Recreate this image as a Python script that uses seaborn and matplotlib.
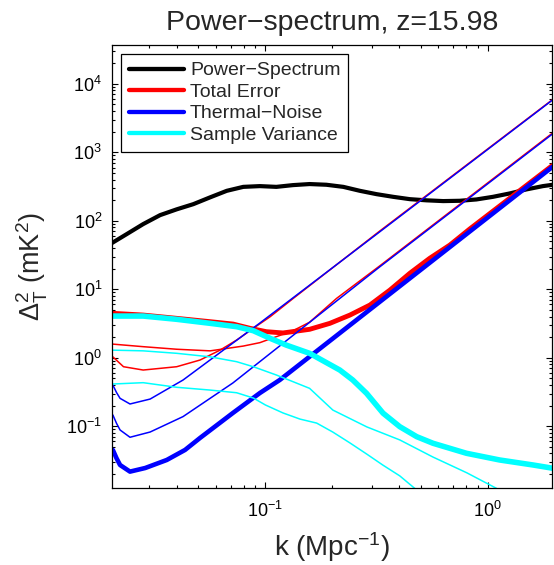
import matplotlib
matplotlib.use('Agg')
import matplotlib.pyplot as plt
from matplotlib.lines import Line2D
from matplotlib.ticker import LogLocator, NullFormatter
import seaborn as sns

# Power spectrum (black)
k_ps = [0.0204, 0.0238, 0.0282, 0.0336, 0.0399, 0.0474, 0.0564, 0.0670, 0.0795, 0.0944,
        0.112, 0.133, 0.158, 0.188, 0.224, 0.266, 0.316, 0.375, 0.446, 0.530,
        0.630, 0.748, 0.889, 1.056, 1.256, 1.49, 1.77, 1.96]
ps = [47.3, 64, 89.5, 121, 147, 175, 220, 274, 313, 321,
      313, 332, 344, 336, 313, 274, 245, 224, 207, 199,
      194, 196, 205, 224, 251, 287, 321, 336]

# Thermal noise (blue): thick, middle thin, upper thin
k_tn_a = [0.0206, 0.0214, 0.0222, 0.0246, 0.0288, 0.036, 0.0435, 0.0508, 0.0714, 0.0944,
          0.116, 1.95]
tn_a = [0.045, 0.034, 0.0271, 0.0217, 0.0245, 0.0321, 0.045, 0.0673, 0.156, 0.305,
        0.473, 610]
k_tn_b = [0.0206, 0.0214, 0.0222, 0.0246, 0.0303, 0.0426, 0.0714, 0.327, 1.95]
tn_b = [0.146, 0.11, 0.088, 0.0689, 0.0822, 0.138, 0.428, 21.3, 1845]
k_tn_c = [0.0206, 0.0214, 0.0222, 0.0246, 0.0303, 0.0426, 0.0944, 0.327, 1.95]
tn_c = [0.399, 0.31, 0.255, 0.211, 0.249, 0.472, 3.21, 69.2, 5780]

# Sample variance (cyan)
k_sv_a = [0.0206, 0.0282, 0.0399, 0.0564, 0.0742, 0.0882, 0.105, 0.124, 0.158, 0.216,
          0.247, 0.285, 0.338, 0.402, 0.479, 0.567, 0.802, 1.13, 1.60, 1.96]
sv_a = [4.06, 4.06, 3.64, 3.18, 2.84, 2.48, 1.92, 1.53, 1.16, 0.661,
        0.473, 0.302, 0.155, 0.0984, 0.0703, 0.0563, 0.0402, 0.0321, 0.0271, 0.0243]
k_sv_b = [0.0206, 0.0282, 0.0399, 0.0564, 0.0742, 0.0882, 0.112, 0.133, 0.158, 0.201,
          0.286, 0.402, 0.566, 0.806, 1.097]
sv_b = [1.29, 1.26, 1.16, 1.03, 0.875, 0.739, 0.559, 0.447, 0.357, 0.172,
        0.0975, 0.063, 0.0355, 0.0208, 0.0123]
k_sv_c = [0.0206, 0.0282, 0.0399, 0.0564, 0.0742, 0.0882, 0.100, 0.120, 0.143, 0.170,
          0.201, 0.240, 0.286, 0.337, 0.402, 0.470]
sv_c = [0.413, 0.432, 0.370, 0.337, 0.308, 0.258, 0.204, 0.156, 0.127, 0.111,
        0.082, 0.0569, 0.039, 0.0271, 0.0188, 0.0123]

# Total error (red)
k_te_a = [0.0206, 0.0282, 0.0399, 0.0564, 0.0716, 0.0852, 0.101, 0.120, 0.158, 0.195,
          0.240, 0.295, 0.363, 0.446, 0.548, 0.675, 0.830, 1.95]
te_a = [4.45, 4.2, 3.76, 3.36, 3.10, 2.69, 2.40, 2.30, 2.6, 3.18,
        4.20, 5.88, 9.73, 17.1, 28.3, 44.2, 76, 640]
k_te_b = [0.0206, 0.0282, 0.0399, 0.0564, 0.0795, 0.0944, 0.112, 0.133, 0.158, 0.209,
          0.327, 1.95]
te_b = [1.58, 1.45, 1.33, 1.26, 1.48, 1.66, 2.03, 2.48, 3.3, 7.36,
        22, 1900]
k_te_c = [0.0206, 0.0230, 0.0282, 0.0399, 0.0508, 0.0625, 0.0742, 0.0882, 0.105, 0.133,
          0.327, 1.95]
te_c = [1.03, 0.739, 0.661, 0.739, 0.925, 1.29, 1.81, 2.69, 3.97, 7.3,
        71, 5850]

legend_labels = ['Power\u2212Spectrum', 'Total Error', 'Thermal\u2212Noise', 'Sample Variance']
colors = ['black', '#ff0000', '#0000ff', '#00ffff']
x_ticks = [0.1, 1.0]
y_ticks = [1e-1, 1e0, 1e1, 1e2, 1e3, 1e4]

sns.set_theme(style='ticks')
plt.rcParams['font.family'] = ['Liberation Sans', 'DejaVu Sans']
plt.rcParams['mathtext.fontset'] = 'custom'
plt.rcParams['mathtext.rm'] = 'Liberation Sans'
plt.rcParams['mathtext.it'] = 'Liberation Sans:italic'
plt.rcParams['mathtext.bf'] = 'Liberation Sans:bold'

fig, ax = plt.subplots(figsize=(5.54, 5.65), dpi=100)
fig.subplots_adjust(left=0.202, right=0.996, bottom=0.1354, top=0.920)

# draw order: black, red, blue, cyan
lines = [
    (k_ps, ps, colors[0], 3.0),
    (k_te_a, te_a, colors[1], 3.5),
    (k_te_b, te_b, colors[1], 1.1),
    (k_te_c, te_c, colors[1], 1.1),
    (k_tn_a, tn_a, colors[2], 3.3),
    (k_tn_b, tn_b, colors[2], 1.1),
    (k_tn_c, tn_c, colors[2], 1.1),
    (k_sv_a, sv_a, colors[3], 4.0),
    (k_sv_b, sv_b, colors[3], 1.1),
    (k_sv_c, sv_c, colors[3], 1.1),
]
for kx, vals, c, lw in lines:
    sns.lineplot(x=kx, y=vals, ax=ax, color=c, lw=lw, sort=False, estimator=None)

ax.set_xscale('log')
ax.set_yscale('log')
ax.set_xticks(x_ticks)
ax.set_yticks(y_ticks)
ax.set_xlim(0.0204, 1.94)
ax.set_ylim(0.0123, 36700)

ax.yaxis.set_minor_locator(LogLocator(base=10, subs=range(2, 10), numticks=20))
ax.yaxis.set_minor_formatter(NullFormatter())
ax.xaxis.set_minor_formatter(NullFormatter())
ax.tick_params(which='both', direction='in', top=True, right=True, colors='black', width=0.8)
ax.tick_params(which='major', length=4, labelsize=13)
ax.tick_params(axis='x', which='major', pad=9)
ax.tick_params(axis='y', which='major', pad=7)
ax.tick_params(which='minor', length=2.2)
for s in ax.spines.values():
    s.set_color('black')
    s.set_linewidth(0.9)

ax.set_title('Power\u2212spectrum, z=15.98', fontsize=20.5, pad=11)
ax.set_xlabel('k (Mpc$^{-1}$)', fontsize=20)
ax.set_ylabel('$\\Delta^2_{\\mathrm{T}}$ (mK$^2$)', fontsize=19.5)
ax.xaxis.set_label_coords(0.5, -0.095)
ax.yaxis.set_label_coords(-0.14, 0.5)

handles = [Line2D([], [], color=c, lw=3.1) for c in colors]
leg = ax.legend(handles, legend_labels, loc='upper left', bbox_to_anchor=(0.0205, 0.98),
                borderaxespad=0, fontsize=14, frameon=True, fancybox=False, framealpha=1,
                handlelength=2.85, handletextpad=0.3, labelspacing=0.2, borderpad=0.4)
leg.get_frame().set_edgecolor('black')
leg.get_frame().set_linewidth(0.9)

fig.savefig('out.png', dpi=100)
